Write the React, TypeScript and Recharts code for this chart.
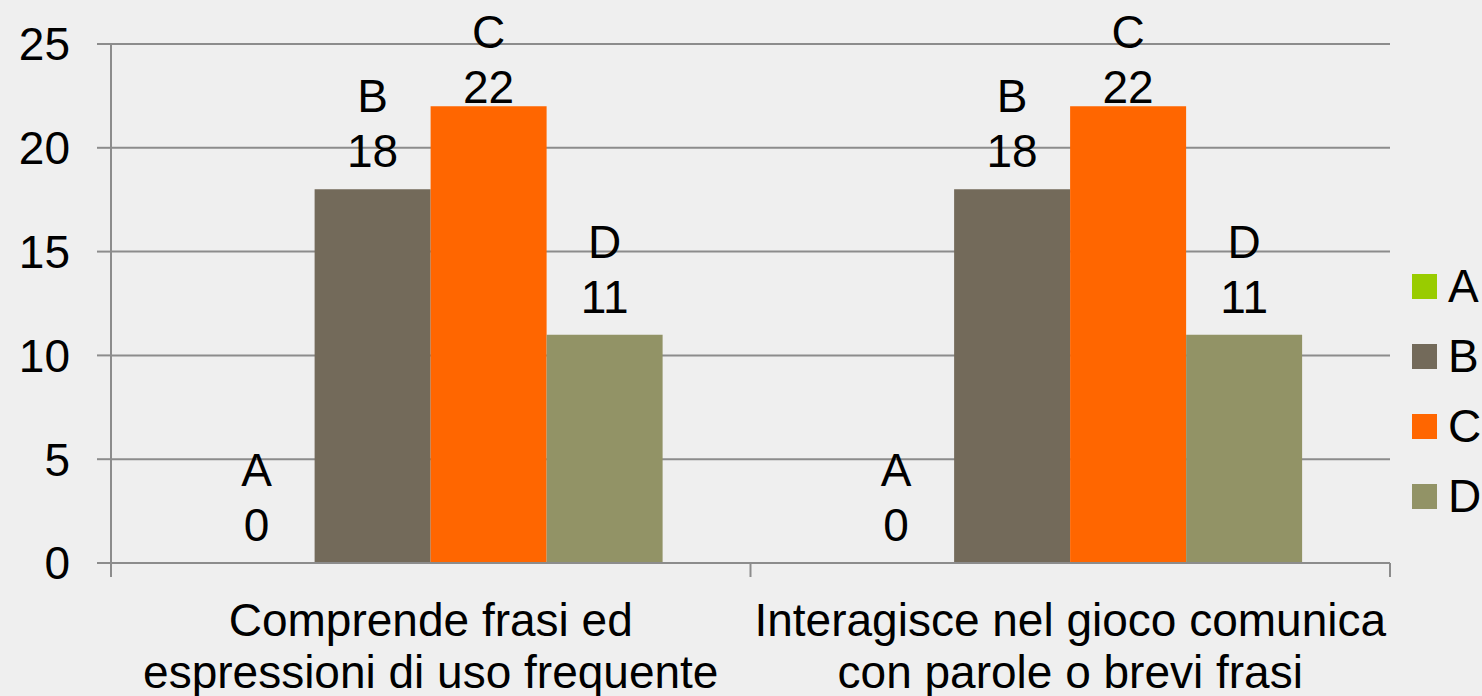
import React from 'react';
import { BarChart, Bar, XAxis, YAxis, CartesianGrid, Legend } from 'recharts';

// categories (x axis, two lines each)
const categories = [
  ['Comprende frasi ed', 'espressioni di uso frequente'],
  ['Interagisce nel gioco comunica', 'con parole o brevi frasi'],
];

// series
const seriesNames = ['A', 'B', 'C', 'D'];
const seriesColors = ['#99CC00', '#736A5A', '#FF6600', '#929366'];
const valuesA = [0, 0];
const valuesB = [18, 18];
const valuesC = [22, 22];
const valuesD = [11, 11];

const yTicks = [0, 5, 10, 15, 20, 25];

const FONT = '"Liberation Sans", Arial, sans-serif';
const FS = 46;

const data = categories.map((c, i) => ({
  name: c.join('\n'),
  A: valuesA[i],
  B: valuesB[i],
  C: valuesC[i],
  D: valuesD[i],
}));

const labelText = (cx: number, top: number, series: string, value: any, key?: string) => {
  let b2 = top - 22;
  let b1 = b2 - 55;
  if (b1 < 48) {
    const shift = 48 - b1;
    b1 += shift;
    b2 += shift;
  }
  return (
    <text key={key} textAnchor="middle" fontFamily={FONT} fontSize={FS} fill="#000">
      <tspan x={cx} y={b1}>{series}</tspan>
      <tspan x={cx} y={b2}>{value}</tspan>
    </text>
  );
};

const makeLabel = (series: string) => (props: any) => {
  const { x, y, width, height, value, index } = props;
  const out = [labelText(x + width / 2, y, series, value, 'own')];
  // zero-height A bars get no label of their own, so B draws it next door
  if (series === 'B') {
    const base = y + height;
    const perUnit = value ? height / value : 0;
    const a = valuesA[index];
    out.push(labelText(x - width / 2, base - a * perUnit, 'A', a, 'a'));
  }
  return <g>{out}</g>;
};

const CategoryTick = (props: any) => {
  const { x, y, payload, index } = props;
  const half = payload && payload.offset ? payload.offset : 319.75;
  const lines = String(payload.value).split('\n');
  const axisY = y - 8;
  return (
    <g>
      {index === 0 && <line x1={x - half} x2={x - half} y1={axisY} y2={axisY + 14} stroke="#8c8c8c" strokeWidth={2} />}
      <line x1={x + half} x2={x + half} y1={axisY} y2={axisY + 14} stroke="#8c8c8c" strokeWidth={2} />
      <text textAnchor="middle" fontFamily={FONT} fontSize={FS} fill="#000">
        {lines.map((l, i) => (
          <tspan key={i} x={x} y={axisY + 73 + i * 52}>{l}</tspan>
        ))}
      </text>
    </g>
  );
};

const LegendContent = (props: any) => {
  const { payload } = props;
  return (
    <div>
      {(payload || []).map((p: any) => (
        <div key={p.value} style={{ display: 'flex', alignItems: 'center', height: 70 }}>
          <div style={{ width: 25, height: 25, background: p.color, marginRight: 11 }} />
          <span style={{ fontFamily: FONT, fontSize: FS, color: '#000', lineHeight: '46px' }}>{p.value}</span>
        </div>
      ))}
    </div>
  );
};

export default function App() {
  return (
    <div style={{ position: 'fixed', left: 0, top: 0, width: 1482, height: 696, background: '#efefef' }}>
      <BarChart
        width={1482}
        height={696}
        data={data}
        margin={{ top: 44, right: 92, bottom: 0, left: 0 }}
        barCategoryGap="13.7%"
        barGap={0}
      >
        <CartesianGrid vertical={false} stroke="#8c8c8c" strokeWidth={2} />
        <XAxis
          dataKey="name"
          height={133}
          axisLine={{ stroke: '#8c8c8c', strokeWidth: 2 }}
          tickLine={false}
          tick={<CategoryTick />}
          interval={0}
        />
        <YAxis
          width={111}
          domain={[0, 25]}
          ticks={yTicks}
          axisLine={{ stroke: '#8c8c8c', strokeWidth: 2 }}
          tickLine={{ stroke: '#8c8c8c', strokeWidth: 2 }}
          tickSize={14}
          tickMargin={27}
          tick={{ fontFamily: FONT, fontSize: FS, fill: '#000' }}
        />
        <Legend
          layout="vertical"
          verticalAlign="middle"
          align="center"
          content={<LegendContent />}
          wrapperStyle={{ left: 1412, top: 251, width: 70 }}
        />
        {seriesNames.map((s, i) => (
          <Bar
            key={s}
            dataKey={s}
            fill={seriesColors[i]}
            isAnimationActive={false}
            label={s === 'A' ? false : makeLabel(s)}
          />
        ))}
      </BarChart>
    </div>
  );
}
